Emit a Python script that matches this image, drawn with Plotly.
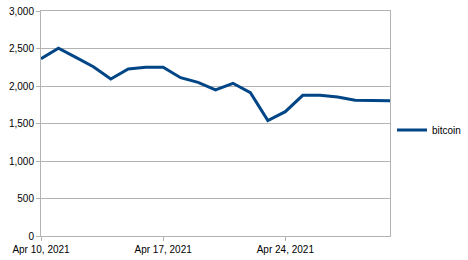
import plotly.graph_objects as go
import pandas as pd

dates = pd.date_range("2021-04-10", "2021-04-30", freq="D").strftime("%Y-%m-%d").tolist()
bitcoin = [2365, 2505, 2382, 2257, 2093, 2227, 2249, 2250, 2111, 2049, 1947, 2036,
           1911, 1538, 1658, 1876, 1876, 1853, 1809, 1804, 1804]
series_name = "bitcoin"
y_ticks = [0, 500, 1000, 1500, 2000, 2500, 3000]

grid = "#b3b3b3"
fig = go.Figure()
fig.add_trace(go.Scatter(x=dates, y=bitcoin, mode="lines", name=series_name,
                         line=dict(color="#004586", width=3)))
fig.update_layout(
    width=468, height=260,
    margin=dict(l=41, r=78, t=11, b=24, autoexpand=False),
    paper_bgcolor="white", plot_bgcolor="white",
    font=dict(family="Liberation Sans, Arial, sans-serif", size=10, color="#000000"),
    showlegend=True,
    legend=dict(xref="container", yref="container", x=392 / 468, y=130 / 260,
                xanchor="left", yanchor="middle",
                font=dict(size=10), bgcolor="rgba(0,0,0,0)", borderwidth=0,
                itemwidth=30, tracegroupgap=0),
    xaxis=dict(type="date", range=["2021-04-10", "2021-04-30"], automargin=False,
               tick0="2021-04-10", dtick=7 * 86400000, tickformat="%b %-d, %Y",
               showgrid=False, showline=True, linecolor=grid, linewidth=1, mirror=True,
               ticks="outside", ticklen=4, tickcolor=grid, zeroline=False),
    yaxis=dict(range=[0, 3000], tickvals=y_ticks, tickformat=",d", automargin=False,
               showgrid=True, gridcolor=grid, gridwidth=1,
               showline=True, linecolor=grid, linewidth=1, mirror=True,
               ticks="outside", ticklen=4, tickcolor=grid, zeroline=False),
)
fig.write_html("out.html")
